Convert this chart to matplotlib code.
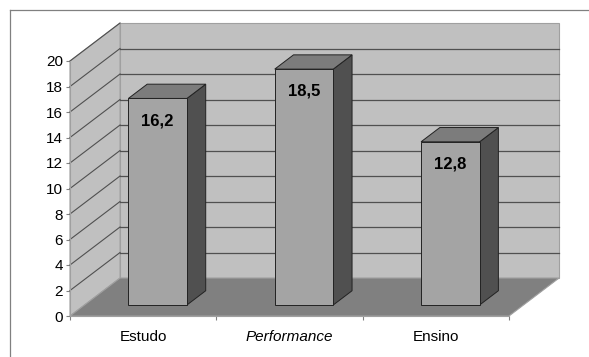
import matplotlib
matplotlib.use("Agg")
import matplotlib.pyplot as plt
from matplotlib.patches import Polygon
from matplotlib.lines import Line2D

plt.rcParams['font.family'] = ['Liberation Sans', 'DejaVu Sans']

categories = ["Estudo", "Performance", "Ensino"]
values = [16.2, 18.5, 12.8]
value_labels = ["16,2", "18,5", "12,8"]
yticks = [0, 2, 4, 6, 8, 10, 12, 14, 16, 18, 20]

# oblique projection: depth d in [0, 1] shifts points right and up
DX, DY = 0.342, 2.98
YMAX = 20
BAR_W = 0.4
D0, D1 = 0.29, 0.665

WALL = '#c0c0c0'
FLOOR = '#808080'
GRID = '#505050'
FRONT = '#a4a4a4'
TOP = '#7c7c7c'
SIDE = '#505050'


def proj(x, y, d):
    return (x + d * DX, y + d * DY)


fig = plt.figure(figsize=(5.89, 3.57), dpi=100)
ax = fig.add_axes([70 / 589, 41 / 357, 439 / 589, 255 / 357])
ax.set_xlim(0, len(categories))
ax.set_ylim(0, YMAX)
ax.patch.set_alpha(0)

n = len(categories)

# back wall
ax.add_patch(Polygon([proj(0, 0, 1), proj(n, 0, 1), proj(n, YMAX, 1), proj(0, YMAX, 1)],
                     closed=True, fc=WALL, ec='#a0a0a0', lw=0.8, clip_on=False, zorder=1))
# side wall
ax.add_patch(Polygon([proj(0, 0, 0), proj(0, 0, 1), proj(0, YMAX, 1), proj(0, YMAX, 0)],
                     closed=True, fc=WALL, ec='#a0a0a0', lw=0.8, clip_on=False, zorder=1))

# gridlines on the walls
for yv in yticks[1:]:
    x0, y0 = proj(0, yv, 0)
    x1, y1 = proj(0, yv, 1)
    x2, y2 = proj(n, yv, 1)
    ax.plot([x0, x1], [y0, y1], color=GRID, lw=0.8, clip_on=False, zorder=2)
    if yv < YMAX:
        ax.plot([x1, x2], [y1, y2], color=GRID, lw=0.9, clip_on=False, zorder=2)

# floor
ax.add_patch(Polygon([proj(0, 0, 0), proj(n, 0, 0), proj(n, 0, 1), proj(0, 0, 1)],
                     closed=True, fc=FLOOR, ec='#a0a0a0', lw=0.8, clip_on=False, zorder=3))

# bars
for i, (v, lab) in enumerate(zip(values, value_labels)):
    xl = i + 0.5 - BAR_W / 2
    xr = i + 0.5 + BAR_W / 2
    front = [proj(xl, 0, D0), proj(xr, 0, D0), proj(xr, v, D0), proj(xl, v, D0)]
    top = [proj(xl, v, D0), proj(xr, v, D0), proj(xr, v, D1), proj(xl, v, D1)]
    side = [proj(xr, 0, D0), proj(xr, 0, D1), proj(xr, v, D1), proj(xr, v, D0)]
    for pts, c in ((side, SIDE), (top, TOP), (front, FRONT)):
        ax.add_patch(Polygon(pts, closed=True, fc=c, ec='#222222', lw=0.7,
                             clip_on=False, zorder=4))
    cx, cy = proj(i + 0.5, v, D0)
    ax.text(cx, cy - 1.75, lab, ha='center', va='center', fontsize=12,
            fontweight='bold', color='black', zorder=5)

# axes styling
for s in ('top', 'right'):
    ax.spines[s].set_visible(False)
ax.spines['left'].set_color('#a0a0a0')
ax.spines['left'].set_linewidth(0.8)
ax.spines['bottom'].set_color('#a0a0a0')
ax.spines['bottom'].set_linewidth(0.8)
ax.spines['left'].set_zorder(6)
ax.spines['bottom'].set_zorder(6)

ax.set_yticks(yticks)
ax.set_yticklabels([str(t) for t in yticks], fontsize=11)
ax.tick_params(axis='y', length=3, width=0.8, color='#808080', pad=2)

ax.set_xticks(range(n + 1))
ax.set_xticklabels([''] * (n + 1))
ax.set_xticks([i + 0.5 for i in range(n)], minor=True)
ax.set_xticklabels(categories, minor=True, fontsize=11)
ax.tick_params(axis='x', which='major', length=3, width=0.8, color='#808080')
ax.tick_params(axis='x', which='minor', length=0, pad=10)
for t in ax.get_xticklabels(minor=True):
    if t.get_text() == 'Performance':
        t.set_fontstyle('italic')

# chart area border
fig.add_artist(Line2D([9.5 / 589, 9.5 / 589], [0, 1 - 9.5 / 357], color='#808080', lw=0.9))
fig.add_artist(Line2D([9.5 / 589, 1], [1 - 9.5 / 357, 1 - 9.5 / 357], color='#808080', lw=0.9))

fig.savefig("out.png", dpi=100, facecolor='white')
